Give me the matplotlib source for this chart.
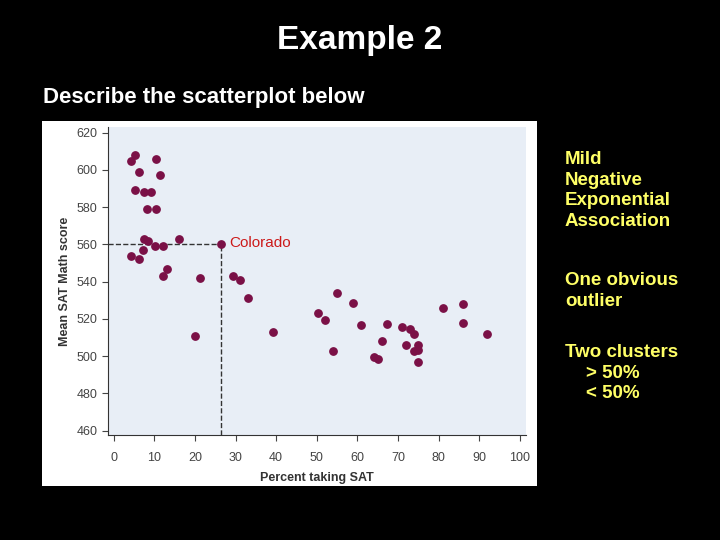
import matplotlib
matplotlib.use("Agg")
import matplotlib.pyplot as plt

pct = [4.2,5.3,6.2,10.3,11.3,5.3,7.4,9.2,8.2,10.3,7.4,8.4,10.2,12.2,16.2,26.3,4.3,6.2,7.3,13.2,12.2,21.2,20,
       29.3,31,33.1,39.2,50.2,51.9,54,54.9,59,61,64,65,66,67.2,71,71.9,72.9,73.9,73.9,75,75,75,81,85.9,85.9,91.9]
score = [605,608,599,606,597,589,588,588,579,579,563,562,559,559,563,560,554,552,557,547,543,542,511,
         543,541,531,513,523,519.5,502.6,534,528.5,516.7,499.7,498.4,508.3,517.4,515.8,505.8,514.4,511.7,502.8,506,503.5,496.7,525.8,527.8,517.6,511.7]
xticks = list(range(0, 101, 10))
yticks = list(range(460, 621, 20))

plt.rcParams['font.family'] = ['Liberation Sans', 'DejaVu Sans']
fig = plt.figure(figsize=(7.2, 5.4), dpi=100)
fig.patch.set_facecolor('black')
bg = fig.add_axes([42/720, 1-486/540, 495/720, 365/540], zorder=0)
bg.set_facecolor('white')
bg.set_xticks([]); bg.set_yticks([])
for s in bg.spines.values():
    s.set_visible(False)

fig.text(0.5, 1-40/540, 'Example 2', color='white', fontsize=24, fontweight='bold', ha='center', va='center')
fig.text(43/720, 1-97/540, 'Describe the scatterplot below', color='white', fontsize=16, fontweight='bold', ha='left', va='center')
kw = dict(color='#ffff66', fontsize=13.5, fontweight='bold', ha='left', va='top', linespacing=1.28)
fig.text(565/720, 1-151/540, 'Mild\nNegative\nExponential\nAssociation', **kw)
fig.text(565/720, 1-272/540, 'One obvious\noutlier', **kw)
fig.text(565/720, 1-344/540, 'Two clusters\n    > 50%\n    < 50%', **kw)

ax = fig.add_axes([108/720, 1-435/540, 418/720, 308/540], zorder=1)
ax.set_facecolor('#e8eef6')
ax.scatter(pct, score, s=28, color='#7a1046', zorder=3)
ax.set_xlim(-1.4, 101.5)
ax.set_ylim(457.7, 623)
ax.set_xticks(xticks)
ax.set_yticks(yticks)
ax.tick_params(labelsize=9, colors='#444444', length=4)
ax.tick_params(axis='x', pad=8)
for s in ['top', 'right']:
    ax.spines[s].set_visible(False)
for s in ['left', 'bottom']:
    ax.spines[s].set_color('#333333')
ax.plot([-1.4, 26.3], [560, 560], ls='--', color='#333333', lw=1, zorder=2)
ax.plot([26.3, 26.3], [457.7, 560], ls='--', color='#333333', lw=1, zorder=2)
ax.text(28.5, 560.5, 'Colorado', color='#cc1a1a', fontsize=11, va='center', ha='left')
ax.set_xlabel('Percent taking SAT', fontsize=9, fontweight='bold', color='#333333', labelpad=6)
ax.set_ylabel('Mean SAT Math score', fontsize=9, fontweight='bold', color='#333333')
fig.savefig('out.png', dpi=100, facecolor=fig.get_facecolor())
